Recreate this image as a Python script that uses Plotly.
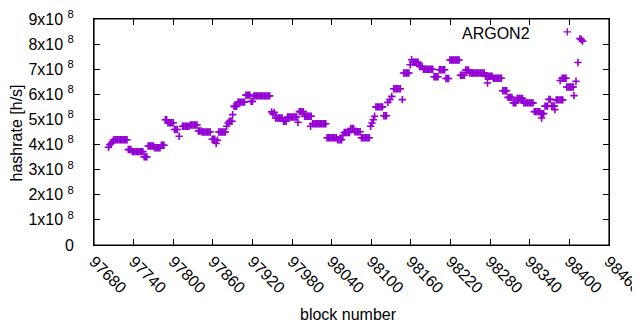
import plotly.graph_objects as go

# ---- data (hashrate in units of 1e8 h/s) ----
block = [
    97702, 97704, 97706, 97708,
    97710, 97712, 97714, 97716, 97718, 97720, 97722, 97724, 97726, 97728, 97730,
    97732, 97734, 97736,
    97738, 97740, 97742, 97744, 97746, 97748, 97750, 97752, 97754,
    97756, 97758, 97760,
    97762, 97764, 97766, 97768, 97770,
    97772, 97774, 97776, 97778, 97780,
    97782, 97784, 97786,
    97788, 97790,
    97792, 97794, 97796, 97798, 97800,
    97802, 97804, 97806,
    97809,
    97814, 97816, 97818, 97820, 97822, 97824,
    97826, 97828, 97830, 97832, 97834, 97836,
    97838, 97840, 97842,
    97844, 97846, 97848, 97850, 97852, 97854, 97856,
    97859, 97861, 97863, 97865, 97867,
    97869, 97871, 97873, 97875, 97877, 97879,
    97881, 97883,
    97885, 97887, 97889,
    97890,
    97892, 97894, 97896,
    97898, 97900, 97902, 97904, 97906, 97908,
    97910, 97912, 97914, 97916,
    97918, 97920,
    97922, 97924, 97926, 97928, 97930, 97932, 97934, 97936, 97938, 97940, 97942, 97944, 97946,
    97949, 97951, 97953,
    97955, 97957, 97959, 97961, 97963, 97965,
    97967, 97969, 97971,
    97973, 97975, 97977, 97979, 97981, 97983, 97985, 97987, 97989,
    97991, 97993, 97995, 97997,
    97999, 98001, 98003, 98005, 98007, 98009, 98008,
    98011, 98013, 98015, 98017, 98019, 98021, 98023, 98025, 98027, 98029, 98031,
    98033, 98035, 98037, 98039, 98041, 98043, 98045, 98047,
    98049, 98051, 98053, 98055,
    98057,
    98059, 98061, 98063, 98065, 98067,
    98069, 98071, 98073,
    98075, 98077, 98079, 98081, 98083,
    98085, 98087, 98089, 98091, 98093, 98095, 98097,
    98099, 98101, 98103, 98105,
    98107, 98109, 98111, 98113, 98115, 98117,
    98119, 98121, 98123,
    98125, 98128, 98131,
    98134, 98136, 98138, 98140, 98142, 98144,
    98147,
    98149, 98151, 98153, 98155, 98157,
    98159, 98161,
    98163, 98165, 98167, 98169, 98171,
    98173, 98175, 98177,
    98179, 98181, 98183, 98185, 98187, 98189, 98191, 98193,
    98195, 98197, 98199, 98201,
    98203, 98205, 98207, 98209, 98211,
    98213, 98215, 98217,
    98219, 98221, 98223, 98225, 98227, 98229, 98231, 98233,
    98235, 98237, 98239, 98241,
    98243, 98245, 98247,
    98249, 98251, 98253, 98255, 98257, 98259, 98261, 98263, 98265, 98267, 98269, 98271,
    98273, 98275, 98277, 98279, 98281, 98283, 98276,
    98285, 98287, 98289, 98291, 98293, 98295, 98297,
    98299, 98301, 98303, 98305,
    98307, 98309, 98311, 98313,
    98315, 98317, 98319,
    98321, 98323, 98325, 98327, 98329,
    98331, 98333, 98335, 98337, 98339, 98341, 98343, 98345,
    98347, 98349, 98351, 98353, 98355,
    98357, 98359, 98361, 98358,
    98363, 98365, 98367,
    98369, 98371,
    98373, 98375, 98377, 98378,
    98380, 98382, 98384, 98386, 98388, 98390,
    98386,
    98389, 98391, 98393, 98395,
    98396, 98398, 98400, 98402, 98404, 98406,
    98407, 98410, 98413,
    98416, 98418, 98420,
]

hashrate_e8 = [
    3.89, 3.99, 4.05, 4.12,
    4.19, 4.19, 4.19, 4.19, 4.19, 4.19, 4.19, 4.19, 4.19, 4.19, 4.19,
    3.80, 3.80, 3.80,
    3.72, 3.72, 3.72, 3.72, 3.72, 3.72, 3.72, 3.72, 3.72,
    3.51, 3.51, 3.51,
    3.94, 3.94, 3.94, 3.94, 3.94,
    3.87, 3.87, 3.87, 3.87, 3.87,
    3.97, 3.97, 3.97,
    4.99, 4.99,
    4.87, 4.87, 4.87, 4.87, 4.87,
    4.60, 4.60, 4.60,
    4.33,
    4.73, 4.73, 4.73, 4.73, 4.73, 4.73,
    4.78, 4.78, 4.78, 4.78, 4.78, 4.78,
    4.54, 4.54, 4.54,
    4.50, 4.50, 4.50, 4.50, 4.50, 4.50, 4.50,
    4.21, 4.21, 4.21, 4.04, 4.17,
    4.50, 4.50, 4.50, 4.50, 4.50, 4.50,
    4.73, 4.86,
    4.93, 4.93, 4.93,
    5.19,
    5.52, 5.52, 5.52,
    5.69, 5.69, 5.69, 5.69, 5.69, 5.69,
    5.97, 5.97, 5.97, 5.97,
    5.72, 5.72,
    5.94, 5.94, 5.94, 5.94, 5.94, 5.94, 5.94, 5.94, 5.94, 5.94, 5.94, 5.94, 5.94,
    5.30, 5.22, 5.28,
    5.06, 5.06, 5.06, 5.06, 5.06, 5.06,
    4.93, 4.93, 4.93,
    5.10, 5.10, 5.10, 5.10, 5.10, 5.10, 5.10, 5.10, 4.89,
    5.31, 5.31, 5.31, 5.31,
    5.13, 5.13, 5.13, 5.13, 5.13, 5.13, 4.73,
    4.83, 4.83, 4.83, 4.83, 4.83, 4.83, 4.83, 4.83, 4.83, 4.83, 4.83,
    4.27, 4.27, 4.27, 4.27, 4.27, 4.27, 4.27, 4.27,
    4.19, 4.19, 4.19, 4.19,
    4.37,
    4.48, 4.48, 4.48, 4.48, 4.48,
    4.64, 4.64, 4.64,
    4.51, 4.51, 4.51, 4.51, 4.51,
    4.27, 4.27, 4.27, 4.27, 4.27, 4.27, 4.27,
    4.73, 4.86, 4.99, 5.13,
    5.50, 5.50, 5.50, 5.50, 5.50, 5.50,
    5.15, 5.15, 5.15,
    5.68, 5.79, 5.92,
    6.22, 6.22, 6.22, 6.22, 6.22, 6.22,
    5.79,
    6.85, 6.85, 6.85, 6.85, 6.85,
    7.18, 7.38,
    7.28, 7.28, 7.28, 7.28, 7.28,
    7.11, 7.11, 7.11,
    7.00, 7.00, 7.00, 7.00, 7.00, 7.00, 7.00, 7.00,
    6.70, 6.70, 6.70, 6.70,
    6.98, 6.98, 6.98, 6.98, 6.98,
    6.63, 6.63, 6.63,
    7.37, 7.37, 7.37, 7.37, 7.37, 7.37, 7.37, 7.37,
    6.76, 6.76, 6.76, 6.76,
    6.97, 6.97, 6.97,
    6.85, 6.85, 6.85, 6.85, 6.85, 6.85, 6.85, 6.85, 6.85, 6.85, 6.85, 6.85,
    6.72, 6.72, 6.72, 6.72, 6.72, 6.72, 6.45,
    6.64, 6.64, 6.64, 6.64, 6.64, 6.64, 6.64,
    6.14, 6.14, 6.14, 6.14,
    5.88, 5.88, 5.88, 5.88,
    5.66, 5.66, 5.66,
    5.84, 5.84, 5.84, 5.84, 5.84,
    5.66, 5.66, 5.66, 5.66, 5.66, 5.66, 5.66, 5.66,
    5.31, 5.31, 5.31, 5.31, 5.31,
    5.23, 5.23, 5.23, 5.06,
    5.53, 5.53, 5.53,
    5.80, 5.80,
    5.54, 5.54, 5.54, 5.39,
    5.78, 5.78, 5.78, 5.78, 5.78, 5.78,
    6.55,
    6.64, 6.64, 6.64, 6.64,
    6.29, 6.29, 6.29, 6.29, 6.29, 6.29,
    5.95, 6.52, 7.27,
    8.22, 8.18, 8.12,
]

x_ticks = [97680, 97740, 97800, 97860, 97920, 97980, 98040, 98100,
           98160, 98220, 98280, 98340, 98400, 98460]
y_tick_mult = [0, 1, 2, 3, 4, 5, 6, 7, 8, 9]
y_tick_text = ["0"] + [f"{m}x10 <sup>8</sup>" for m in y_tick_mult[1:]]

series_name = "ARGON2"
color = "#9400D3"
FONT = "Liberation Sans, Arial, sans-serif"

fig = go.Figure()
fig.add_trace(go.Scatter(
    x=block, y=[v * 1e8 for v in hashrate_e8], mode="markers", name=series_name,
    marker=dict(symbol="cross-thin", size=5.3, color=color,
                line=dict(color=color, width=1.6)),
    showlegend=False,
))

# the page body has an 8px default margin, so the figure is 8px smaller
fig.update_layout(
    width=632, height=322,
    margin=dict(l=86, r=31, t=11, b=85, autoexpand=False),
    plot_bgcolor="white", paper_bgcolor="white",
    font=dict(family=FONT, size=16, color="black"),
    showlegend=False,
)
fig.update_xaxes(
    range=[97680, 98460], tickvals=x_ticks, ticktext=[str(t) for t in x_ticks],
    tickangle=45, ticks="inside", ticklen=6, tickcolor="black",
    showline=True, linecolor="black", linewidth=1, mirror="allticks",
    showgrid=False, zeroline=False, automargin=False, ticklabeloverflow="allow",
)
fig.update_yaxes(
    range=[0, 9e8], tickvals=[m * 1e8 for m in y_tick_mult], ticktext=y_tick_text,
    ticks="inside", ticklen=6, tickcolor="black", ticklabelstandoff=16,
    showline=True, linecolor="black", linewidth=1, mirror="allticks",
    showgrid=False, zeroline=False, automargin=False, ticklabeloverflow="allow",
)

# plot border (top and right edges drawn explicitly)
for x0, x1, y0, y1 in [(0, 1, 1, 1), (1, 1, 0, 1), (0, 0, 0, 1), (0, 1, 0, 0)]:
    fig.add_shape(type="line", xref="paper", yref="paper", x0=x0, x1=x1, y0=y0, y1=y1,
                  line=dict(color="black", width=1.2), layer="above")

# axis titles
fig.add_annotation(text="block number", xref="paper", yref="paper",
                   x=0.495, y=-0.3075, xanchor="center", yanchor="middle",
                   showarrow=False, font=dict(size=16))
fig.add_annotation(text="hashrate [h/s]", xref="paper", yref="paper",
                   x=-0.1515, y=0.498, xanchor="center", yanchor="middle",
                   textangle=-90, showarrow=False, font=dict(size=16))

# key (text followed by the point sample, gnuplot style)
fig.add_annotation(text=series_name, xref="paper", yref="paper",
                   x=0.8505, y=0.938, xanchor="right", yanchor="middle",
                   showarrow=False, font=dict(size=16))
kx, ky = 0.919, 0.943
fig.add_shape(type="line", xref="paper", yref="paper", xsizemode="pixel", ysizemode="pixel",
              xanchor=kx, yanchor=ky, x0=-3.7, x1=3.7, y0=0, y1=0,
              line=dict(color=color, width=1.3))
fig.add_shape(type="line", xref="paper", yref="paper", xsizemode="pixel", ysizemode="pixel",
              xanchor=kx, yanchor=ky, x0=0, x1=0, y0=-3.7, y1=3.7,
              line=dict(color=color, width=1.3))

fig.write_html("out.html")
